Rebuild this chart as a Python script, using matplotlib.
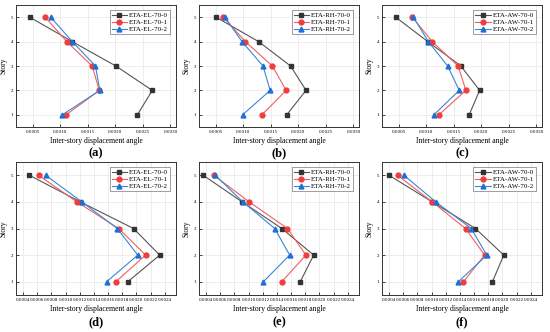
import matplotlib
matplotlib.use("Agg")
import matplotlib.pyplot as plt
import numpy as np

stories = [1, 2, 3, 4, 5]

# panel data: values listed for stories 1..5
a_0 = [0.00240, 0.00267, 0.00201, 0.00122, 0.00045]
a_1 = [0.00111, 0.00171, 0.00158, 0.00112, 0.00073]
a_2 = [0.00104, 0.00172, 0.00164, 0.00122, 0.00083]

b_0 = [0.00179, 0.00214, 0.00186, 0.00128, 0.00051]
b_1 = [0.00134, 0.00178, 0.00153, 0.00104, 0.00064]
b_2 = [0.00099, 0.00149, 0.00136, 0.00098, 0.00067]

c_0 = [0.00178, 0.00197, 0.00163, 0.00103, 0.00045]
c_1 = [0.00123, 0.00172, 0.00158, 0.00111, 0.00075]
c_2 = [0.00114, 0.00160, 0.00139, 0.00104, 0.00077]

d_0 = [0.00188, 0.00233, 0.00196, 0.00121, 0.00049]
d_1 = [0.00171, 0.00213, 0.00175, 0.00116, 0.00062]
d_2 = [0.00158, 0.00202, 0.00173, 0.00123, 0.00072]

e_0 = [0.00173, 0.00192, 0.00147, 0.00091, 0.00036]
e_1 = [0.00147, 0.00181, 0.00155, 0.00101, 0.00051]
e_2 = [0.00121, 0.00158, 0.00137, 0.00092, 0.00053]

f_0 = [0.00186, 0.00202, 0.00162, 0.00101, 0.00040]
f_1 = [0.00145, 0.00175, 0.00148, 0.00101, 0.00052]
f_2 = [0.00138, 0.00178, 0.00156, 0.00106, 0.00061]

panels = [
    ("(a)", "EL", [a_0, a_1, a_2]),
    ("(b)", "RH", [b_0, b_1, b_2]),
    ("(c)", "AW", [c_0, c_1, c_2]),
    ("(d)", "EL", [d_0, d_1, d_2]),
    ("(e)", "RH", [e_0, e_1, e_2]),
    ("(f)", "AW", [f_0, f_1, f_2]),
]
top_ticks = [0.0005, 0.0010, 0.0015, 0.0020, 0.0025, 0.0030]
bot_ticks = [0.0004, 0.0006, 0.0008, 0.0010, 0.0012, 0.0014, 0.0016,
             0.0018, 0.0020, 0.0022, 0.0024]

plt.rcParams['font.family'] = ['Liberation Serif', 'DejaVu Serif']

W, H = 550, 332
fig = plt.figure(figsize=(W / 100, H / 100), dpi=100)

line_cols = ['#555555', '#f06060', '#3a86d8']
mark_cols = ['#333333', '#f03c3c', '#1f6fd6']
markers = ['s', 'o', '^']
lefts = [16, 199, 382]
ax_w = 160

for i, (lab, code, series) in enumerate(panels):
    row = i // 3
    col = i % 3
    if row == 0:
        top, bot = 5, 127
    else:
        top, bot = 162, 295
    ax = fig.add_axes([lefts[col] / W, 1 - bot / H, ax_w / W, (bot - top) / H])
    for k, vals in enumerate(series):
        ax.plot(vals, stories, color=line_cols[k], lw=0.8, marker=markers[k],
                ms=3.5, mfc=mark_cols[k], mec=mark_cols[k],
                label=f"ETA-{code}-70-{k}")
    ax.set_ylim(0.5, 5.5)
    ax.set_yticks(stories)
    if row == 0:
        ax.set_xlim(0.0002, 0.0031)
        ax.set_xticks(top_ticks)
        ax.set_xticklabels([f"{t:.4f}" for t in top_ticks])
    else:
        ax.set_xlim(0.0003, 0.00256)
        ax.set_xticks(bot_ticks)
        ax.set_xticklabels([f"{t:.4f}" for t in bot_ticks])
    ax.tick_params(axis='both', labelsize=3.6, length=2, width=0.5,
                   direction='in', pad=2)
    ax.grid(True, color='#e6e6e6', lw=0.5)
    ax.set_axisbelow(True)
    for s in ax.spines.values():
        s.set_linewidth(0.7)
        s.set_color('#333333')
    ax.set_ylabel("Story", fontsize=5.5, labelpad=2)
    ax.set_xlabel("Inter-story displacement angle", fontsize=5.5, labelpad=2)
    leg = ax.legend(loc='upper right', fontsize=5, frameon=True, fancybox=False,
                    edgecolor='#555555', handlelength=2.2, borderpad=0.3,
                    labelspacing=0.15, handletextpad=0.3,
                    bbox_to_anchor=(0.985, 0.985))
    leg.get_frame().set_linewidth(0.5)
    cx = (lefts[col] + ax_w / 2) / W
    cy = 1 - (153 if row == 0 else 322) / H
    fig.text(cx, cy, lab, ha='center', va='center', fontsize=9,
             fontweight='bold')

fig.savefig("out.png", dpi=100)
